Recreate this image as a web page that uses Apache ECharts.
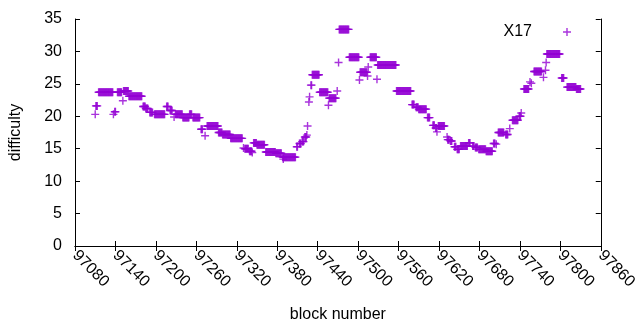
<!DOCTYPE html>
<html>
<head>
<meta charset="utf-8">
<script src="https://cdn.jsdelivr.net/npm/echarts@6/dist/echarts.min.js"></script>
<style>
html,body{margin:0;padding:0;background:#fff;}
#main{width:640px;height:330px;}
</style>
</head>
<body>
<div id="main"></div>
<script>
var chart = echarts.init(document.getElementById('main'));

// runs of blocks with the same difficulty
var runStart = [97110,97111,97115,97137,97139,97143,97151,97152,97160,97181,97185,97191,97198,97216,97221,97227,97229,97240,97250,97255,
  97267,97273,97276,97293,97299,97311,97330,97332,97339,97343,97345,97350,97363,97378,97388,97389,97409,97413,97417,97421,
  97424,97425,97427,97428,97430,97432,97443,97456,97457,97469,97471,97472,97487,97502,97503,97514,97515,97518,97528,97529,
  97557,97580,97586,97590,97603,97611,97615,97617,97619,97632,97633,97637,97643,97647,97652,97664,97670,97674,97679,97690,
  97701,97705,97708,97719,97725,97729,97739,97742,97746,97755,97757,97761,97775,97778,97779,97780,97802,97810,97824];
var runEnd = [97110,97113,97136,97137,97140,97149,97151,97159,97179,97184,97188,97195,97213,97218,97224,97227,97239,97249,97253,97265,
  97269,97273,97292,97298,97310,97328,97330,97337,97342,97343,97349,97361,97377,97386,97407,97389,97410,97415,97419,97423,
  97424,97425,97427,97428,97431,97442,97455,97456,97467,97469,97471,97486,97501,97502,97513,97514,97515,97527,97528,97556,
  97578,97583,97589,97601,97606,97613,97616,97617,97628,97632,97635,97639,97645,97650,97662,97666,97672,97677,97689,97699,
  97703,97705,97716,97722,97725,97737,97741,97742,97753,97755,97757,97772,97775,97778,97779,97799,97805,97823,97830];
var runValue = [20.3,21.6,23.7,20.3,20.7,23.7,22.4,23.9,23.1,21.5,21.2,20.6,20.3,21.5,20.9,19.9,20.3,19.8,20.3,19.8,
  18.0,17.0,18.5,17.5,17.2,16.6,15.1,15.0,14.6,14.4,15.9,15.6,14.5,14.3,13.7,13.4,15.3,15.8,16.1,16.8,
  17.1,18.5,22.2,23.0,24.8,26.4,23.7,21.7,22.8,23.9,28.3,33.4,29.1,25.6,26.8,26.2,27.6,29.1,25.7,27.9,
  23.9,21.8,21.4,21.1,19.8,18.6,18.2,17.6,18.5,16.8,16.4,16.2,15.3,14.9,15.4,15.9,15.4,15.2,14.9,14.6,
  15.8,15.7,17.5,17.2,18.1,19.4,20.0,20.5,24.2,25.3,25.1,26.9,26.0,27.1,28.3,29.6,25.9,24.5,24.2];

var xTicks = {min: 97080, max: 97860, step: 60};
var yTicks = {min: 0, max: 35, step: 5};

var points = [];
for (var i = 0; i < runStart.length; i++) {
  for (var b = runStart[i]; b <= runEnd[i]; b++) {
    points.push([b, runValue[i]]);
  }
}

// gnuplot style "+" point
var plus = 'path://M33,0H47V33H80V47H47V80H33V47H0V33H33Z';
var purple = '#9400d3';
var font = 'Liberation Sans';
var fs = 16;

var lineStyle = {color: '#000', width: 1};

option = {
  animation: false,
  grid: {left: 74, right: 31, top: 19, bottom: 84},
  legend: {
    right: 64, top: 19,
    align: 'right',
    itemWidth: 8, itemHeight: 8,
    textStyle: {fontFamily: font, fontSize: fs, color: '#000', padding: [0, 26, 0, 0]},
    data: [{name: 'X17', icon: plus}]
  },
  xAxis: [
    {
      type: 'value', min: xTicks.min, max: xTicks.max, interval: xTicks.step,
      name: 'block number', nameLocation: 'middle', nameGap: 61,
      nameTextStyle: {fontFamily: font, fontSize: fs, color: '#000'},
      axisLine: {lineStyle: lineStyle},
      axisTick: {inside: true, length: 5, lineStyle: lineStyle},
      axisLabel: {
        rotate: -45, margin: 7, fontFamily: font, fontSize: fs, color: '#000',
        formatter: function (v) { return String(v); }
      },
      splitLine: {show: false}
    },
    {
      type: 'value', position: 'top', min: xTicks.min, max: xTicks.max, interval: xTicks.step,
      axisLine: {lineStyle: lineStyle},
      axisTick: {inside: true, length: 5, lineStyle: lineStyle},
      axisLabel: {show: false},
      splitLine: {show: false}
    }
  ],
  yAxis: [
    {
      type: 'value', min: yTicks.min, max: yTicks.max, interval: yTicks.step,
      name: 'difficulty', nameLocation: 'middle', nameGap: 51,
      nameTextStyle: {fontFamily: font, fontSize: fs, color: '#000'},
      axisLine: {show: true, lineStyle: lineStyle},
      axisTick: {inside: true, length: 5, lineStyle: lineStyle},
      axisLabel: {margin: 13, fontFamily: font, fontSize: fs, color: '#000'},
      splitLine: {show: false}
    },
    {
      type: 'value', position: 'right', min: yTicks.min, max: yTicks.max, interval: yTicks.step,
      axisLine: {show: true, lineStyle: lineStyle},
      axisTick: {inside: true, length: 5, lineStyle: lineStyle},
      axisLabel: {show: false},
      splitLine: {show: false}
    }
  ],
  series: [
    {
      name: 'X17',
      type: 'scatter',
      symbol: plus,
      symbolSize: 8,
      itemStyle: {color: purple},
      data: points
    }
  ]
};

chart.setOption(option);
</script>
</body>
</html>
